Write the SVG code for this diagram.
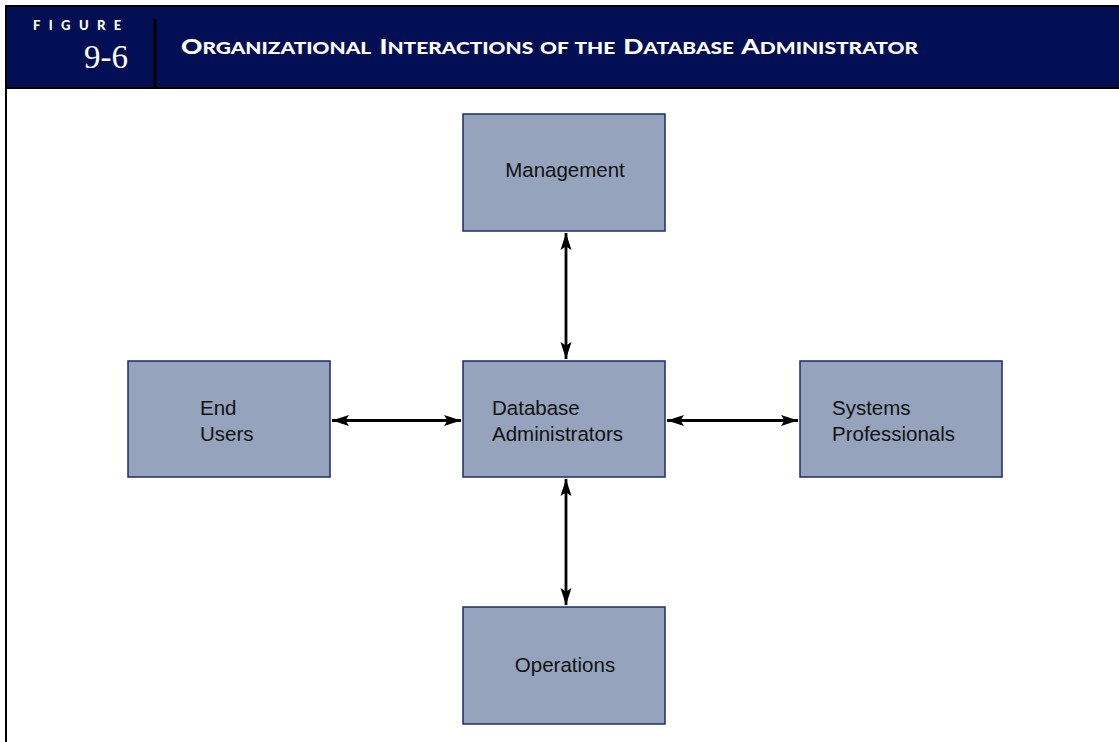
<svg xmlns="http://www.w3.org/2000/svg" width="1119" height="742" viewBox="0 0 1119 742">
<style>
.box{fill:#95a3bd;stroke:#1c2b6b;stroke-width:1.5}
.lbl{font-family:"Liberation Sans",Arial,sans-serif;font-size:20.5px;fill:#111}
.conn{stroke:#000;stroke-width:2.8;fill:none}
.hdr{font-family:Lato,"Open Sans",sans-serif;font-weight:900;fill:#fff}
</style>
<defs>
<marker id="ah" markerUnits="userSpaceOnUse" markerWidth="17" markerHeight="12" viewBox="0 0 17 12" refX="17" refY="6" orient="auto-start-reverse">
<path d="M0,0.5 L17,6 L0,11.5 L3.5,6 Z" fill="#000"/>
</marker>
</defs>
<rect width="1119" height="742" fill="#fff"/>
<g id="header">
<rect x="5" y="5" width="1114" height="84" fill="#000"/>
<rect x="7" y="7" width="1112" height="80" fill="#020f55"/>
<rect x="153.5" y="19" width="3" height="68" fill="#000"/>
<rect x="5" y="5" width="2" height="737" fill="#000"/>
<text class="hdr" x="33" y="30" font-size="13" letter-spacing="8.4">FIGURE</text>
<text x="128" y="68" text-anchor="end" font-family="'Liberation Serif','Times New Roman',serif" font-size="33" fill="#fff">9-6</text>
<text class="hdr" x="181" y="53.5" font-size="21.5" word-spacing="1.5" textLength="737" lengthAdjust="spacingAndGlyphs">O<tspan font-size="17">RGANIZATIONAL</tspan> I<tspan font-size="17">NTERACTIONS OF THE</tspan> D<tspan font-size="17">ATABASE</tspan> A<tspan font-size="17">DMINISTRATOR</tspan></text>
</g>
<g id="connectors">
<line class="conn" x1="566" y1="233" x2="566" y2="359" marker-start="url(#ah)" marker-end="url(#ah)"/>
<line class="conn" x1="566" y1="479" x2="566" y2="605" marker-start="url(#ah)" marker-end="url(#ah)"/>
<line class="conn" x1="332" y1="420.5" x2="461" y2="420.5" marker-start="url(#ah)" marker-end="url(#ah)"/>
<line class="conn" x1="667" y1="420.5" x2="798" y2="420.5" marker-start="url(#ah)" marker-end="url(#ah)"/>
</g>
<g id="management">
<rect class="box" x="463" y="114" width="202" height="117"/>
<text class="lbl" x="565" y="177" text-anchor="middle">Management</text>
</g>
<g id="dba">
<rect class="box" x="463" y="361" width="202" height="116"/>
<text class="lbl" x="492" y="415">Database</text>
<text class="lbl" x="492" y="441">Administrators</text>
</g>
<g id="end-users">
<rect class="box" x="128" y="361" width="202" height="116"/>
<text class="lbl" x="200" y="415">End</text>
<text class="lbl" x="200" y="441">Users</text>
</g>
<g id="systems">
<rect class="box" x="800" y="361" width="202" height="116"/>
<text class="lbl" x="832" y="415">Systems</text>
<text class="lbl" x="832" y="441">Professionals</text>
</g>
<g id="operations">
<rect class="box" x="463" y="607" width="202" height="117"/>
<text class="lbl" x="565" y="672" text-anchor="middle">Operations</text>
</g>
</svg>
